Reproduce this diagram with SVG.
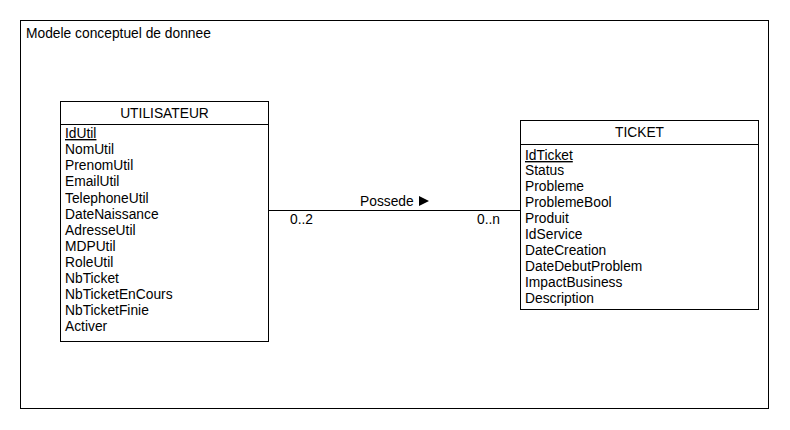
<svg xmlns="http://www.w3.org/2000/svg" width="790" height="430" viewBox="0 0 790 430">
<style>
text{font-family:"Liberation Sans",Arial,sans-serif;font-size:13.8px;fill:#000}
.box{fill:#fff;stroke:#000;stroke-width:1}
.ln{stroke:#000;stroke-width:1;fill:none}
.u{text-decoration:underline}
</style>
<rect width="790" height="430" fill="#fff"/>
<g id="frame">
<rect x="20.5" y="20.5" width="748" height="388" class="box"/>
<text x="26" y="38">Modele conceptuel de donnee</text>
</g>
<g id="connectors">
<line x1="269" y1="210.5" x2="520" y2="210.5" class="ln"/>
<text x="360" y="206">Possede</text>
<polygon points="419,196 429,201 419,206" fill="#000"/>
<text x="290" y="224">0..2</text>
<text x="477" y="224">0..n</text>
</g>
<g id="utilisateur">
<rect x="60.5" y="101.5" width="208" height="240" class="box"/>
<line x1="60.5" y1="124.5" x2="268.5" y2="124.5" class="ln"/>
<text x="164.5" y="118" text-anchor="middle">UTILISATEUR</text>
<text x="65" y="138" class="u">IdUtil</text>
<text x="65" y="154">NomUtil</text>
<text x="65" y="170">PrenomUtil</text>
<text x="65" y="186">EmailUtil</text>
<text x="65" y="203">TelephoneUtil</text>
<text x="65" y="219">DateNaissance</text>
<text x="65" y="235">AdresseUtil</text>
<text x="65" y="251">MDPUtil</text>
<text x="65" y="267">RoleUtil</text>
<text x="65" y="283">NbTicket</text>
<text x="65" y="299">NbTicketEnCours</text>
<text x="65" y="315">NbTicketFinie</text>
<text x="65" y="331">Activer</text>
</g>
<g id="ticket">
<rect x="520.5" y="120.5" width="238" height="189" class="box"/>
<line x1="520.5" y1="144.5" x2="758.5" y2="144.5" class="ln"/>
<text x="639.5" y="137" text-anchor="middle">TICKET</text>
<text x="525" y="160" class="u">IdTicket</text>
<text x="525" y="175">Status</text>
<text x="525" y="191">Probleme</text>
<text x="525" y="207">ProblemeBool</text>
<text x="525" y="223">Produit</text>
<text x="525" y="239">IdService</text>
<text x="525" y="255">DateCreation</text>
<text x="525" y="271">DateDebutProblem</text>
<text x="525" y="287">ImpactBusiness</text>
<text x="525" y="303">Description</text>
</g>
</svg>
